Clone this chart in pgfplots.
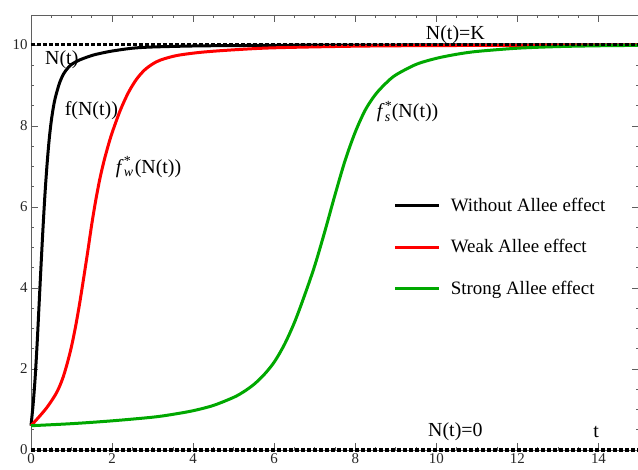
\documentclass[border=0pt]{standalone}
\usepackage{fontspec}
\setmainfont{Liberation Serif}
\usepackage{pgfplots}
\pgfplotsset{compat=1.18}
\definecolor{mgreen}{RGB}{0,168,0}
\definecolor{frm}{RGB}{95,95,95}
\newcommand{\fst}[1]{\textit{f}\kern.3pt\rlap{\textsuperscript{*}}\textsubscript{\textit{#1}}\kern1pt}
\begin{document}
\begin{tikzpicture}
\begin{axis}[
  scale only axis, width=608bp, height=435bp,
  xmin=0, xmax=15, ymin=0, ymax=10.74,
  xtick={0,2,...,14}, ytick={0,2,...,10},
  minor tick num=3,
  tick align=inside,
  major tick length=7bp, minor tick length=3.5bp,
  axis line style={draw=frm, line width=0.9bp},
  every tick/.style={frm, line width=0.7bp},
  tick label style={font=\fontsize{15}{15}\selectfont, text=black!85},
  /pgf/number format/assume math mode=true,
  clip=false,
  legend cell align=left,
  legend style={draw=none, fill=none, at={(axis cs:8.95,6.28)}, anchor=north west,
    font=\fontsize{19}{19}\selectfont, row sep=23bp, inner sep=0pt,
    /tikz/every even column/.append style={column sep=0pt}},
  legend image code/.code={\draw[#1, line width=3bp] (0bp,0bp) -- (44bp,0bp);},
]
\addplot[black, line width=3bp, smooth] coordinates {
(0,0.6) (0.05,1.1) (0.1,1.75) (0.15,2.6) (0.2,3.6) (0.25,4.6) (0.3,5.55) (0.35,6.4)
(0.4,7.1) (0.45,7.68) (0.5,8.12) (0.55,8.45) (0.6,8.7) (0.7,9.05) (0.8,9.28) (0.9,9.42)
(1.0,9.52) (1.2,9.63) (1.5,9.74) (1.7,9.79) (2.0,9.85) (2.5,9.92) (3,9.95) (4,9.975)
(5,9.985) (7,9.995) (10,10) (15,10)};
\addlegendentry{\ \,Without Allee effect}
\addplot[red, line width=3bp, smooth] coordinates {
(0,0.6) (0.2,0.82) (0.4,1.06) (0.6,1.36) (0.7,1.56) (0.8,1.82) (0.9,2.16) (1.0,2.56) (1.1,3.05)
(1.2,3.62) (1.3,4.25) (1.4,4.9) (1.5,5.58) (1.6,6.18) (1.7,6.7) (1.8,7.13) (1.9,7.5)
(2.0,7.83) (2.2,8.38) (2.4,8.82) (2.6,9.15) (2.8,9.38) (3.0,9.53) (3.2,9.63) (3.6,9.74)
(4.2,9.82) (5,9.88) (6,9.93) (8,9.97) (10,9.985) (15,10)};
\addlegendentry{\ \,Weak Allee effect}
\addplot[mgreen, line width=3bp, smooth] coordinates {
(0,0.6) (1,0.65) (2,0.72) (3,0.81) (3.5,0.88) (4,0.97) (4.5,1.1) (5,1.3) (5.25,1.44)
(5.5,1.62) (5.75,1.86) (6,2.17) (6.25,2.6) (6.5,3.15) (6.75,3.82) (7,4.55) (7.25,5.4) (7.5,6.3)
(7.75,7.15) (8,7.85) (8.25,8.4) (8.5,8.78) (8.75,9.05) (9,9.26) (9.5,9.52) (10,9.67)
(10.5,9.77) (11,9.84) (12,9.92) (13,9.96) (14,9.98) (15,9.99)};
\addlegendentry{\ \,Strong Allee effect}
\addplot[black, line width=3bp, dash pattern=on 4bp off 2bp, forget plot] coordinates {(0,10) (15,10)};
\addplot[black, line width=3bp, dash pattern=on 4bp off 2bp, forget plot] coordinates {(0,0) (15,0)};
\begin{scope}[font=\fontsize{20}{20}\selectfont]
\node at (axis cs:0.76,9.63) {N(t)};
\node at (axis cs:1.49,8.37) {f(N(t))};
\node at (axis cs:2.9,6.99) {\fst{w}(N(t))};
\node at (axis cs:9.29,8.35) {\fst{s}(N(t))};
\node at (axis cs:10.47,10.25) {N(t)=K};
\node at (axis cs:10.47,0.44) {N(t)=0};
\node at (axis cs:13.94,0.44) {t};
\end{scope}
\end{axis}
\pgfresetboundingbox
\path[use as bounding box] (-31bp,-20bp) rectangle (607bp,450bp);
\end{tikzpicture}
\end{document}
